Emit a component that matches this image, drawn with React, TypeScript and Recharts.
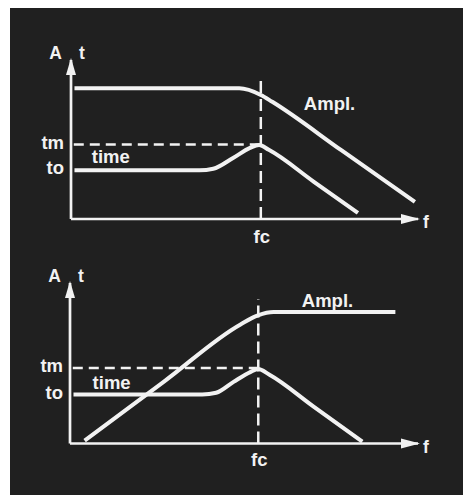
import React from 'react';
import { LineChart, Line, XAxis, YAxis, ReferenceLine, ReferenceDot } from 'recharts';

const FONT = '"Liberation Sans", Arial, Helvetica, sans-serif';
const INK = '#f2f2f2';
const BG = '#202020';

// ---- Upper panel (low-pass behaviour) ----
const lpAmplF = [1, 48.5, 54.7, 58, 78, 99.1];
const lpAmplA = [82.2, 82.2, 78, 73.7, 43.1, 10.7];
const lpTimeF = [1, 37, 41, 46.7, 51.6, 54.2, 57, 70, 82.7];
const lpTimeT = [30.6, 30.6, 31.6, 38.4, 44.7, 46.5, 43.5, 23.4, 3.8];
const lpFc = 54.7;
const lpTm = 46.8;
const lpTo = 30.6;

// ---- Lower panel (high-pass behaviour) ----
const hpAmplF = [4.2, 27, 49, 54, 58.5, 93.5];
const hpAmplA = [1.8, 38.6, 74.2, 79.8, 81.9, 81.9];
const hpTimeF = [1, 38, 42, 47, 51.8, 54.1, 57.2, 70, 84];
const hpTimeT = [30.5, 30.5, 31.6, 38.4, 44.5, 46.4, 43, 23, 1.1];
const hpFc = 54.1;
const hpTm = 47;
const hpTo = 30.5;

const tickNames = ['to', 'tm'];
const fcName = 'fc';

const FS = 18.5;
const FW = 700;

const toPts = (f: number[], v: number[]) => f.map((x, i) => ({ x, y: v[i] }));

const YArrow = (p: any) => (
  <g>
    <polygon
      points={`${p.cx},${p.cy - 2} ${p.cx - 5},${p.cy + 15} ${p.cx + 5},${p.cy + 15}`}
      fill={INK}
    />
    <text x={p.cx - 15.5} y={p.cy - 1} textAnchor="middle" fontSize={17.5} fontWeight={FW} fill={INK} fontFamily={FONT}>
      A
    </text>
    <text x={p.cx + 11} y={p.cy - 1} textAnchor="middle" fontSize={17.5} fontWeight={FW} fill={INK} fontFamily={FONT}>
      t
    </text>
  </g>
);

const XArrow = (p: any) => (
  <g>
    <polygon
      points={`${p.cx + 2},${p.cy} ${p.cx - 17},${p.cy - 5} ${p.cx - 17},${p.cy + 5}`}
      fill={INK}
    />
    <text x={p.cx + 5} y={p.cy + 9} fontSize={17.5} fontWeight={FW} fill={INK} fontFamily={FONT}>
      f
    </text>
  </g>
);

const makeLabel = (txt: string) => (p: any) => (
  <text x={p.cx} y={p.cy} fontSize={FS} fontWeight={FW} fill={INK} fontFamily={FONT}>
    {txt}
  </text>
);

type PanelProps = {
  top: number;
  height: number;
  margin: { top: number; right: number; left: number; bottom: number };
  amplF: number[];
  amplA: number[];
  timeF: number[];
  timeT: number[];
  fc: number;
  tm: number;
  to: number;
  amplLabel: { x: number; y: number };
  timeLabel: { x: number; y: number };
  fcDy: number;
};

function Panel(props: PanelProps) {
  const { top, height, margin, amplF, amplA, timeF, timeT, fc, tm, to, amplLabel, timeLabel, fcDy } = props;
  const yTicks = [to, tm];
  const YTick = (p: any) => {
    const idx = yTicks.indexOf(p.payload.value);
    return (
      <text x={p.x + 1} y={p.y + 4} textAnchor="end" fontSize={FS} fontWeight={FW} fill={INK} fontFamily={FONT}>
        {tickNames[idx]}
      </text>
    );
  };
  const XTick = (p: any) => (
    <text x={p.x + 1} y={p.y + fcDy} textAnchor="middle" fontSize={FS} fontWeight={FW} fill={INK} fontFamily={FONT}>
      {fcName}
    </text>
  );
  return (
    <div style={{ position: 'absolute', left: 0, top, width: 467, height }}>
      <LineChart width={467} height={height} margin={margin}>
        <XAxis
          type="number"
          dataKey="x"
          domain={[0, 100]}
          ticks={[fc]}
          tick={XTick}
          tickLine={false}
          axisLine={{ stroke: INK, strokeWidth: 2.7 }}
          height={30}
        />
        <YAxis
          type="number"
          dataKey="y"
          domain={[0, 100]}
          ticks={yTicks}
          tick={YTick}
          tickLine={false}
          axisLine={{ stroke: INK, strokeWidth: 2.7 }}
          width={60}
        />
        <ReferenceLine
          segment={[
            { x: 0.8, y: tm },
            { x: fc, y: tm },
          ]}
          stroke={INK}
          strokeWidth={2.5}
          strokeDasharray="10 6"
        />
        <ReferenceLine
          segment={[
            { x: fc, y: 0 },
            { x: fc, y: 90 },
          ]}
          stroke={INK}
          strokeWidth={2.5}
          strokeDasharray="12 6"
        />
        <Line
          data={toPts(amplF, amplA)}
          dataKey="y"
          type="monotone"
          stroke={INK}
          strokeWidth={4}
          dot={false}
          activeDot={false}
          isAnimationActive={false}
        />
        <Line
          data={toPts(timeF, timeT)}
          dataKey="y"
          type="monotone"
          stroke={INK}
          strokeWidth={4}
          dot={false}
          activeDot={false}
          isAnimationActive={false}
        />
        <ReferenceDot x={0} y={100} r={0} shape={YArrow} />
        <ReferenceDot x={100} y={0} r={0} shape={XArrow} />
        <ReferenceDot x={amplLabel.x} y={amplLabel.y} r={0} shape={makeLabel('Ampl.')} />
        <ReferenceDot x={timeLabel.x} y={timeLabel.y} r={0} shape={makeLabel('time')} />
      </LineChart>
    </div>
  );
}

export default function App() {
  return (
    <div style={{ position: 'absolute', left: 0, top: 0, width: 467, height: 495, background: '#fff', overflow: 'hidden' }}>
      <div style={{ position: 'absolute', left: 10, top: 8, width: 453, height: 487, background: BG }} />
      <Panel
        top={0}
        height={250}
        margin={{ top: 60, right: 49, left: 11, bottom: 1 }}
        amplF={lpAmplF}
        amplA={lpAmplA}
        timeF={lpTimeF}
        timeT={lpTimeT}
        fc={lpFc}
        tm={lpTm}
        to={lpTo}
        amplLabel={{ x: 67.1, y: 68.6 }}
        timeLabel={{ x: 6, y: 35 }}
        fcDy={16}
      />
      <Panel
        top={250}
        height={230}
        margin={{ top: 33, right: 49, left: 10, bottom: 6.5 }}
        amplF={hpAmplF}
        amplA={hpAmplA}
        timeF={hpTimeF}
        timeT={hpTimeT}
        fc={hpFc}
        tm={hpTm}
        to={hpTo}
        amplLabel={{ x: 66.6, y: 85 }}
        timeLabel={{ x: 6.5, y: 34.1 }}
        fcDy={14}
      />
    </div>
  );
}
